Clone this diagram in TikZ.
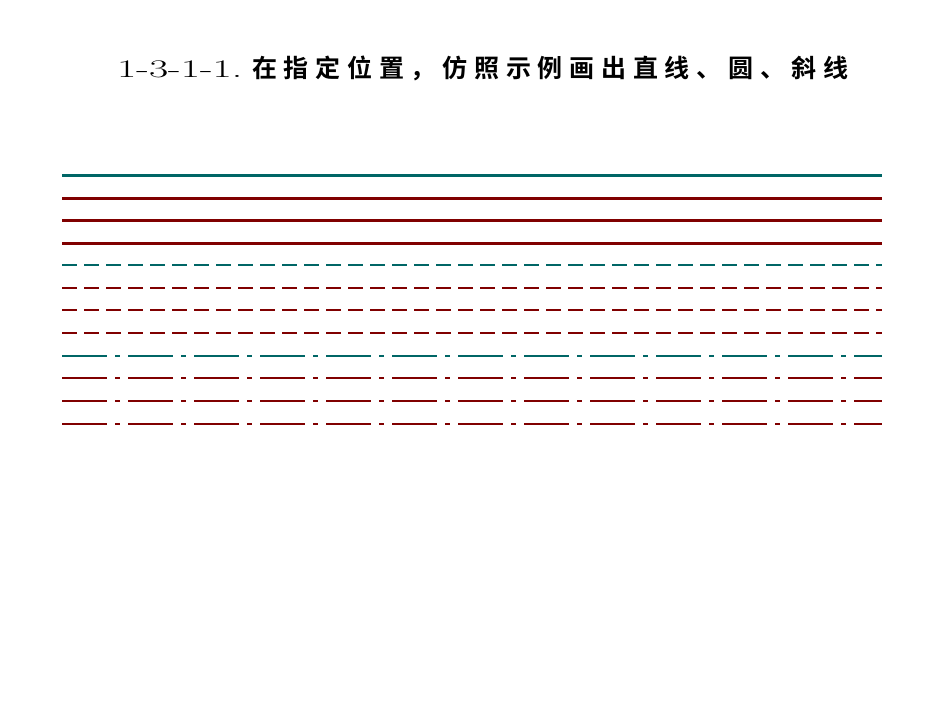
\documentclass[tikz,border=0pt]{standalone}
\usepackage{fontspec}
\newfontfamily\cjk{Noto Sans CJK SC}[BoldFont={Noto Sans CJK SC Bold},BoldFeatures={LetterSpace=27}]
\definecolor{tl}{RGB}{0,102,102}
\definecolor{dr}{RGB}{128,0,0}
\begin{document}
\begin{tikzpicture}[x=1pt,y=-1pt,
 solidl/.style={line width=3pt},
 dashl/.style={line width=1.8pt,dash pattern=on 15pt off 7pt},
 dotl/.style={line width=1.8pt,dash pattern=on 45pt off 8pt on 5pt off 8pt}]
\useasboundingbox (0,0) rectangle (950,713);
\node[anchor=base west,inner sep=0] (n) at (117,77) {\fontsize{22}{26}\selectfont\scalebox{1.9}[1.15]{1-3-1-1.}};
\node[anchor=base west,inner sep=0] (t) at (252,77) {\fontsize{25}{28}\selectfont{\cjk\bfseries 在指定位置，仿照示例画出直线、圆、斜线}};
\foreach \y/\c/\s [count=\i] in {175/tl/solidl,198/dr/solidl,220/dr/solidl,243/dr/solidl,265/tl/dashl,288/dr/dashl,310/dr/dashl,333/dr/dashl,356/tl/dotl,378/dr/dotl,401/dr/dotl,424/dr/dotl}{
 \coordinate (a\i) at (62,\y); \coordinate (b\i) at (882,\y);
 \draw[\c,\s] (a\i) -- (b\i);}
\end{tikzpicture}
\end{document}
